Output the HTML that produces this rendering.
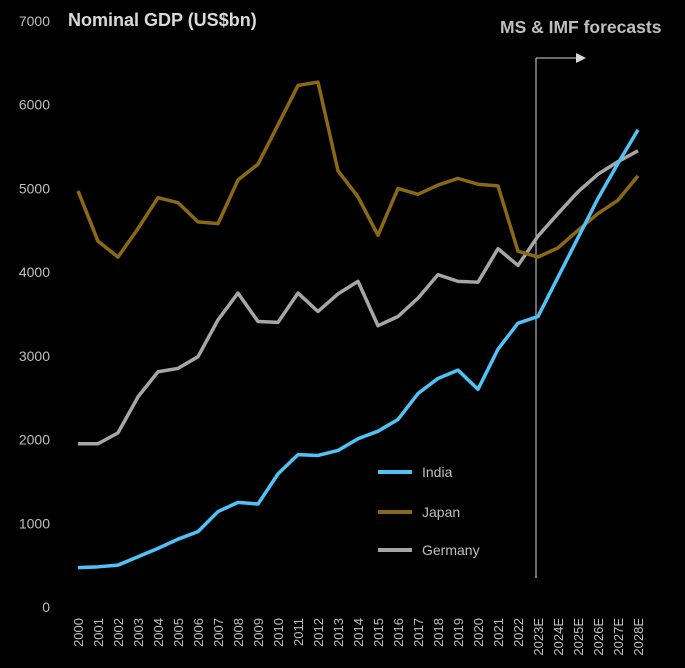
<!DOCTYPE html>
<html><head><meta charset="utf-8"><style>
body{margin:0;background:#000;}
svg{display:block;font-family:"Liberation Sans",sans-serif;}
</style></head><body>
<svg id="chart" width="685" height="668" viewBox="0 0 685 668">
<rect width="685" height="668" fill="#000"/>
<text x="68" y="26" fill="#d9d9d9" font-size="18" font-weight="bold">Nominal GDP (US$bn)</text>
<text x="500" y="33" fill="#bfbfbf" font-size="17.5" font-weight="bold">MS &amp; IMF forecasts</text>
<g id="yaxis"></g>
<g id="xaxis"></g>
<line x1="536" y1="58" x2="536" y2="578" stroke="#d9d9d9" stroke-width="1"/>
<line x1="536" y1="58" x2="578" y2="58" stroke="#d9d9d9" stroke-width="1"/>
<polygon points="586,58 576,53 576,63" fill="#d9d9d9"/>
<g id="series"></g>
<g>
<line x1="378" y1="472" x2="412" y2="472" stroke="#4fc3f7" stroke-width="4"/>
<text x="422" y="477" fill="#bfbfbf" font-size="14">India</text>
<line x1="378" y1="512" x2="412" y2="512" stroke="#8b6914" stroke-width="4"/>
<text x="422" y="517" fill="#bfbfbf" font-size="14">Japan</text>
<line x1="378" y1="550" x2="412" y2="550" stroke="#a6a6a6" stroke-width="4"/>
<text x="422" y="555" fill="#bfbfbf" font-size="14">Germany</text>
</g>
</svg>
<script>
const categories=["2000","2001","2002","2003","2004","2005","2006","2007","2008","2009","2010","2011","2012","2013","2014","2015","2016","2017","2018","2019","2020","2021","2022","2023E","2024E","2025E","2026E","2027E","2028E"];
const india=[470,480,500,600,700,810,900,1140,1250,1230,1590,1820,1810,1870,2010,2100,2240,2550,2730,2830,2600,3080,3390,3470,3940,4410,4880,5300,5700];
const japan=[4970,4370,4180,4520,4890,4830,4600,4580,5100,5290,5760,6230,6270,5210,4900,4440,5000,4930,5040,5120,5050,5030,4250,4180,4290,4500,4700,4860,5150];
const germany=[1950,1950,2080,2510,2810,2850,2990,3430,3750,3410,3400,3750,3530,3740,3890,3360,3470,3690,3970,3890,3880,4280,4080,4430,4700,4960,5170,5320,5450];
const yTicks=[0,1000,2000,3000,4000,5000,6000,7000];
const NS="http://www.w3.org/2000/svg";
function xPos(i){return 78+i*20;}
function yPos(v){return 607-v*(586/7000);}
const yg=document.getElementById('yaxis');
yTicks.forEach(t=>{const e=document.createElementNS(NS,'text');
e.setAttribute('x',50);e.setAttribute('y',yPos(t)+5);e.setAttribute('text-anchor','end');
e.setAttribute('fill','#bfbfbf');e.setAttribute('font-size','14');e.textContent=t;


yg.appendChild(e);});
const xg=document.getElementById('xaxis');
categories.forEach((c,i)=>{const e=document.createElementNS(NS,'text');
const x=xPos(i)+5,y=618;
e.setAttribute('x',x);e.setAttribute('y',y);e.setAttribute('text-anchor','end');
e.setAttribute('transform','rotate(-90 '+x+' '+y+')');
e.setAttribute('fill','#bfbfbf');e.setAttribute('font-size','13');e.textContent=c;


xg.appendChild(e);});
const sg=document.getElementById('series');
[[germany,'#a6a6a6','germany-line'],[japan,'#8b6914','japan-line'],[india,'#4fc3f7','india-line']].forEach(([d,col,name])=>{
const p=document.createElementNS(NS,'polyline');
p.setAttribute('points',d.map((v,i)=>xPos(i)+','+yPos(v)).join(' '));
p.setAttribute('fill','none');p.setAttribute('stroke',col);p.setAttribute('stroke-width','3.5');
p.setAttribute('stroke-linejoin','round');


sg.appendChild(p);});
</script>
</body></html>
